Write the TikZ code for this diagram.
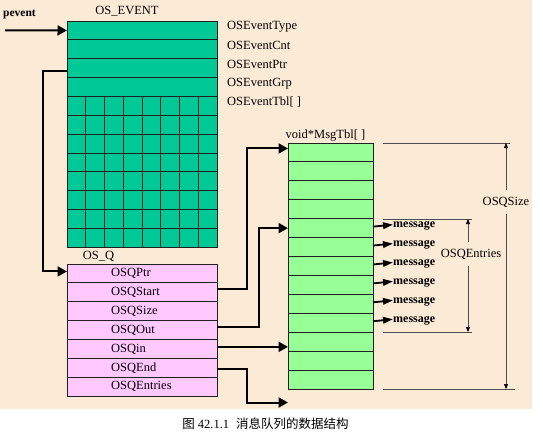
\documentclass[tikz,border=0pt]{standalone}
\usepackage{fontspec}
\setmainfont{Liberation Serif}
\newfontfamily\cjk{Noto Sans CJK SC}
\usetikzlibrary{arrows.meta,calc}
\definecolor{bgc}{HTML}{FBEBD6}
\definecolor{tealc}{HTML}{00C896}
\definecolor{pinkc}{HTML}{FFC8FF}
\definecolor{greenc}{HTML}{96FF96}
\definecolor{borderc}{HTML}{202020}
\begin{document}
\begin{tikzpicture}[x=1pt,y=-1pt,
  txt/.style={font=\fontsize{12.5}{14}\selectfont, inner sep=0pt, text=black},
  btxt/.style={font=\fontsize{11.5}{13}\selectfont\bfseries, inner sep=0pt, text=black},
  erow/.style={draw=borderc, line width=0.9pt, fill=tealc, minimum width=150pt, minimum height=18.85pt, inner sep=0pt, outer sep=0pt},
  qrow/.style={draw=borderc, line width=0.9pt, fill=pinkc, minimum width=150pt, minimum height=18.86pt, inner sep=0pt, outer sep=0pt},
  mrow/.style={draw=borderc, line width=0.9pt, fill=greenc, minimum width=85pt, minimum height=18.92pt, inner sep=0pt, outer sep=0pt},
  conn/.style={line width=2pt, -{Triangle[length=9.5pt,width=10pt]}},
  marr/.style={line width=1.8pt, -{Triangle[length=10pt,width=6.5pt]}},
  dim/.style={draw=black!70, line width=0.6pt},
  dimarr/.style={draw=black!70, line width=0.6pt, -{Triangle[length=5pt,width=4pt,fill=black,color=black]}},
]
\useasboundingbox (0,0) rectangle (543,437);
\fill[white] (0,0) rectangle (543,437);
\fill[bgc] (0,0) rectangle (532,409);

% OS_EVENT
\node[txt] (evtitle) at (127,11) {OS\_EVENT};
\foreach \i in {1,...,4}
  \node[erow] (e\i) at (142,{21+(\i-0.5)*18.85}) {};
\node[erow, minimum height=150.8pt] (egrid) at (142,{96.4+75.4}) {};
\foreach \i in {1,...,7}
  \draw[borderc, line width=0.7pt] ({67+\i*18.75},96.4) -- ({67+\i*18.75},247.2);
\foreach \i in {1,...,7}
  \draw[borderc, line width=0.7pt] (67,{96.4+\i*18.85}) -- (217,{96.4+\i*18.85});
\foreach \i/\t in {1/OSEventType,2/OSEventCnt,3/OSEventPtr,4/OSEventGrp,5/{OSEventTbl[ ]}}
  \node[txt, anchor=west] (el\i) at (227,{27+(\i-1)*18.8}) {\t};

% pevent
\node[btxt, anchor=west] (pevent) at (3,14) {pevent};
\coordinate (pstart) at (5,30.4);
\draw[conn] (pstart) -- (e1.west);

% OS_Q
\node[txt] (qtitle) at (98.5,256) {OS\_Q};
\foreach \i/\t in {1/OSQPtr,2/OSQStart,3/OSQSize,4/OSQOut,5/OSQin,6/OSQEnd,7/OSQEntries}{
  \node[qrow] (q\i) at (142,{264+(\i-0.5)*18.86}) {};
  \node[txt, anchor=west] (ql\i) at (111,{264+(\i-0.5)*18.86}) {\t};
}

% MsgTbl
\node[txt] (mtitle) at (325.5,136) {void*MsgTbl[ ]};
\foreach \i in {1,...,13}
  \node[mrow] (m\i) at (330.5,{143+(\i-0.5)*18.92}) {};

% connectors
\draw[conn] ([yshift=-2.5pt]e3.west) -- ++(-24,0) |- ([yshift=2pt]q1.west);
\draw[conn] ([yshift=3pt]q2.east) -- ++(30,0) |- ([yshift=4pt]m1.west);
\draw[conn] ([yshift=3pt]q4.east) -- ++(42,0) |- (m5.west);
\coordinate (qin) at ([yshift=2pt]q5.east);
\draw[conn] (qin) -- (qin -| m11.west);
\coordinate (qend) at (288,402.5);
\draw[conn] ([yshift=-1.5pt]q6.east) -- ++(30,0) |- (qend);

% messages
\foreach \i in {5,...,10}{
  \node[btxt, font=\fontsize{12}{14}\selectfont\bfseries, anchor=west] (msg\i) at ([xshift=20pt,yshift=2pt]m\i.east) {message};
  \draw[marr] ([yshift=1.5pt]m\i.east) -- ([yshift=1.5pt]msg\i.west);
}

% OSQEntries dimension
\coordinate (et1) at (383,219);
\coordinate (et2) at (472,219);
\coordinate (eb1) at (383,332);
\coordinate (eb2) at (472,332);
\draw[dim] (et1) -- (et2);
\draw[dim] (eb1) -- (eb2);
\node[txt, inner ysep=7pt] (entl) at (471,254) {OSQEntries};
\coordinate (ea) at (468,219);
\coordinate (eb) at (468,332);
\draw[dimarr] (entl.north -| ea) -- (ea);
\draw[dimarr] (entl.south -| eb) -- (eb);

% OSQSize dimension
\coordinate (st1) at (383,143);
\coordinate (st2) at (510,143);
\coordinate (sb1) at (383,389);
\coordinate (sb2) at (515,389);
\draw[dim] (st1) -- (st2);
\draw[dim] (sb1) -- (sb2);
\node[txt, inner ysep=7pt] (sizel) at (506,202) {OSQSize};
\coordinate (sa) at (506,143);
\coordinate (sb) at (506,389);
\draw[dimarr] (sizel.north -| sa) -- (sa);
\draw[dimarr] (sizel.south -| sb) -- (sb);

% caption
\node[txt, font=\fontsize{12.5}{14}\selectfont] (cap) at (265.5,424) {{\cjk 图} 42.1.1\hspace{7pt}{\cjk 消息队列的数据结构}};
\end{tikzpicture}
\end{document}
